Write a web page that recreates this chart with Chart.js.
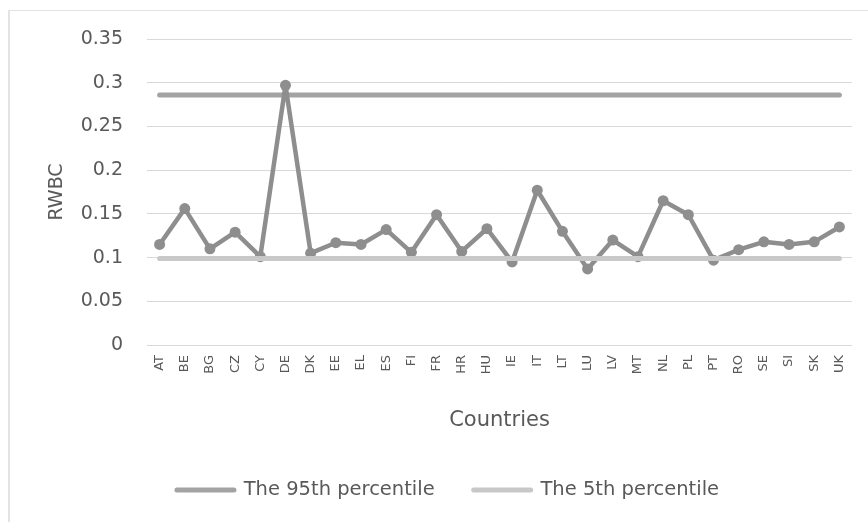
<!DOCTYPE html>
<html>
<head>
<meta charset="utf-8">
<title>RWBC by country</title>
<script src="https://cdn.jsdelivr.net/npm/chart.js@4/dist/chart.umd.min.js"></script>
<style>
  html, body { margin: 0; padding: 0; background: #ffffff; overflow: hidden; }
  #wrap { position: relative; width: 868px; height: 522px; }
  #frame {
    position: absolute; left: 8px; top: 10px; width: 900px; height: 600px;
    border-left: 2px solid #e3e3e3; border-top: 1px solid #e3e3e3;
    box-sizing: border-box; pointer-events: none;
  }
  canvas { position: absolute; left: 0; top: 0; }
</style>
</head>
<body>
<div id="wrap">
  <div id="frame"></div>
  <canvas id="chart" width="868" height="522"></canvas>
</div>
<script>
const countries = ['AT','BE','BG','CZ','CY','DE','DK','EE','EL','ES','FI','FR','HR','HU',
                   'IE','IT','LT','LU','LV','MT','NL','PL','PT','RO','SE','SI','SK','UK'];

const rwbc = [0.115, 0.156, 0.110, 0.129, 0.101, 0.297, 0.105, 0.117, 0.115, 0.132,
              0.106, 0.149, 0.107, 0.133, 0.095, 0.177, 0.130, 0.087, 0.120, 0.101,
              0.165, 0.149, 0.097, 0.109, 0.118, 0.115, 0.118, 0.135];

const percentile95 = [0.286, 0.286, 0.286, 0.286, 0.286, 0.286, 0.286, 0.286, 0.286, 0.286,
                      0.286, 0.286, 0.286, 0.286, 0.286, 0.286, 0.286, 0.286, 0.286, 0.286,
                      0.286, 0.286, 0.286, 0.286, 0.286, 0.286, 0.286, 0.286];

const percentile5 = [0.099, 0.099, 0.099, 0.099, 0.099, 0.099, 0.099, 0.099, 0.099, 0.099,
                     0.099, 0.099, 0.099, 0.099, 0.099, 0.099, 0.099, 0.099, 0.099, 0.099,
                     0.099, 0.099, 0.099, 0.099, 0.099, 0.099, 0.099, 0.099];

const yTicks = [0, 0.05, 0.1, 0.15, 0.2, 0.25, 0.3, 0.35];

const FONT = 'DejaVu Sans';
const TEXT = '#595959';

new Chart(document.getElementById('chart'), {
  type: 'line',
  data: {
    labels: countries,
    datasets: [
      {
        label: 'The 95th percentile',
        data: percentile95,
        order: 3,
        borderColor: '#a3a3a3',
        backgroundColor: '#a3a3a3',
        borderWidth: 5,
        borderCapStyle: 'round',
        pointRadius: 0,
        pointHoverRadius: 0,
        tension: 0
      },
      {
        label: 'RWBC',
        data: rwbc,
        order: 2,
        borderColor: '#8e8e8e',
        backgroundColor: '#8e8e8e',
        borderWidth: 4.5,
        borderJoinStyle: 'round',
        borderCapStyle: 'round',
        pointRadius: 5.5,
        pointBorderWidth: 0,
        pointBackgroundColor: '#8e8e8e',
        tension: 0
      },
      {
        label: 'The 5th percentile',
        data: percentile5,
        order: 1,
        borderColor: '#c8c8c8',
        backgroundColor: '#c8c8c8',
        borderWidth: 5,
        borderCapStyle: 'round',
        pointRadius: 0,
        pointHoverRadius: 0,
        tension: 0
      }
    ]
  },
  options: {
    responsive: false,
    animation: false,
    devicePixelRatio: 1,
    layout: { padding: { top: 39, right: 16, bottom: 12.25, left: 44 } },
    plugins: {
      tooltip: { enabled: false },
      legend: {
        position: 'bottom',
        labels: {
          usePointStyle: true,
          pointStyleWidth: 57,
          padding: 39,
          color: TEXT,
          font: { family: FONT, size: 19.5 },
          filter: (item) => item.text !== 'RWBC',
          sort: (a, b) => a.datasetIndex - b.datasetIndex,
          generateLabels: (chart) => {
            const base = Chart.defaults.plugins.legend.labels.generateLabels(chart);
            return base.map(item => Object.assign(item, {
              pointStyle: 'line',
              lineWidth: 5,
              lineCap: 'round'
            }));
          }
        }
      }
    },
    scales: {
      x: {
        type: 'category',
        offset: true,
        grid: { display: false, drawTicks: false },
        border: { display: false },
        ticks: {
          autoSkip: false,
          minRotation: 90,
          maxRotation: 90,
          padding: 10,
          color: TEXT,
          font: { family: FONT, size: 13 }
        },
        title: {
          display: true,
          text: 'Countries',
          color: TEXT,
          font: { family: FONT, size: 21 },
          padding: { top: 0, bottom: 7.65 }
        },
        afterFit: (scale) => { scale.height = 96.25; }
      },
      y: {
        min: 0,
        max: 0.35,
        afterBuildTicks: (scale) => { scale.ticks = yTicks.map(v => ({ value: v })); },
        grid: { color: '#d9d9d9', lineWidth: 1, drawTicks: false },
        border: { display: false },
        ticks: {
          padding: 24,
          color: TEXT,
          font: { family: FONT, size: 19 },
          callback: (v) => String(+Number(v).toFixed(2))
        },
        title: {
          display: true,
          text: 'RWBC',
          color: TEXT,
          font: { family: FONT, size: 19 },
          padding: { top: 1.6, bottom: 0 }
        },
        afterFit: (scale) => { scale.width = 103; }
      }
    }
  }
});
</script>
</body>
</html>
